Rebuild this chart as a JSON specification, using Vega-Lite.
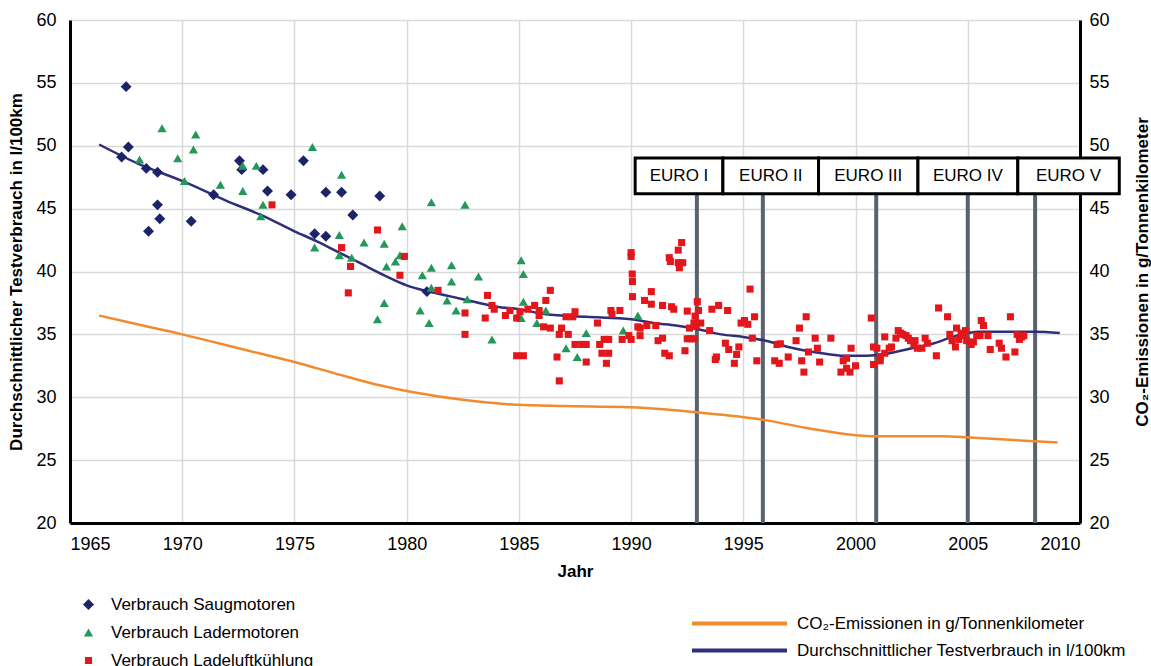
{
"$schema": "https://vega.github.io/schema/vega-lite/v6.json",
"width": 1010, "height": 503,
"autosize": {"type": "none"},
"padding": {"left": 70, "top": 20, "right": 71, "bottom": 143},
"background": "white",
"config": {
  "font": "Liberation Sans",
  "view": {"stroke": null},
  "axis": {"labelFont": "Liberation Sans", "labelFontSize": 18, "labelColor": "#000", "titleFont": "Liberation Sans", "titleFontSize": 17, "titleFontWeight": "bold", "titleColor": "#000", "ticks": false, "tickSize": 0, "domainColor": "#000", "domainWidth": 3, "gridColor": "#d9d9d9", "gridWidth": 1.5},
  "legend": {"labelFont": "Liberation Sans", "labelFontSize": 17, "labelColor": "#000", "labelLimit": 500, "title": null, "padding": 0}
},
"datasets": {
  "pts": [
    {"Typ":"Verbrauch Saugmotoren","Jahr":1967.5,"Wert":54.7},{"Typ":"Verbrauch Saugmotoren","Jahr":1967.6,"Wert":49.9},{"Typ":"Verbrauch Saugmotoren","Jahr":1967.3,"Wert":49.1},{"Typ":"Verbrauch Saugmotoren","Jahr":1968.4,"Wert":48.2},{"Typ":"Verbrauch Saugmotoren","Jahr":1968.9,"Wert":47.9},{"Typ":"Verbrauch Saugmotoren","Jahr":1968.9,"Wert":45.3},{"Typ":"Verbrauch Saugmotoren","Jahr":1969.0,"Wert":44.2},{"Typ":"Verbrauch Saugmotoren","Jahr":1968.5,"Wert":43.2},{"Typ":"Verbrauch Saugmotoren","Jahr":1970.4,"Wert":44.0},{"Typ":"Verbrauch Saugmotoren","Jahr":1971.4,"Wert":46.1},{"Typ":"Verbrauch Saugmotoren","Jahr":1972.55,"Wert":48.8},{"Typ":"Verbrauch Saugmotoren","Jahr":1972.65,"Wert":48.1},{"Typ":"Verbrauch Saugmotoren","Jahr":1973.6,"Wert":48.1},{"Typ":"Verbrauch Saugmotoren","Jahr":1973.8,"Wert":46.4},{"Typ":"Verbrauch Saugmotoren","Jahr":1974.85,"Wert":46.1},{"Typ":"Verbrauch Saugmotoren","Jahr":1975.4,"Wert":48.8},{"Typ":"Verbrauch Saugmotoren","Jahr":1976.4,"Wert":46.3},{"Typ":"Verbrauch Saugmotoren","Jahr":1977.1,"Wert":46.3},{"Typ":"Verbrauch Saugmotoren","Jahr":1977.6,"Wert":44.5},{"Typ":"Verbrauch Saugmotoren","Jahr":1975.9,"Wert":43.0},{"Typ":"Verbrauch Saugmotoren","Jahr":1976.4,"Wert":42.8},{"Typ":"Verbrauch Saugmotoren","Jahr":1978.8,"Wert":46.0},{"Typ":"Verbrauch Saugmotoren","Jahr":1980.9,"Wert":38.4},
    {"Typ":"Verbrauch Ladermotoren","Jahr":1968.1,"Wert":48.9},{"Typ":"Verbrauch Ladermotoren","Jahr":1969.1,"Wert":51.4},{"Typ":"Verbrauch Ladermotoren","Jahr":1969.8,"Wert":49.0},{"Typ":"Verbrauch Ladermotoren","Jahr":1970.1,"Wert":47.2},{"Typ":"Verbrauch Ladermotoren","Jahr":1970.5,"Wert":49.7},{"Typ":"Verbrauch Ladermotoren","Jahr":1970.6,"Wert":50.9},{"Typ":"Verbrauch Ladermotoren","Jahr":1971.7,"Wert":46.9},{"Typ":"Verbrauch Ladermotoren","Jahr":1972.7,"Wert":48.4},{"Typ":"Verbrauch Ladermotoren","Jahr":1973.3,"Wert":48.4},{"Typ":"Verbrauch Ladermotoren","Jahr":1972.7,"Wert":46.4},{"Typ":"Verbrauch Ladermotoren","Jahr":1973.6,"Wert":45.3},{"Typ":"Verbrauch Ladermotoren","Jahr":1973.5,"Wert":44.4},{"Typ":"Verbrauch Ladermotoren","Jahr":1975.8,"Wert":49.9},{"Typ":"Verbrauch Ladermotoren","Jahr":1977.1,"Wert":47.7},{"Typ":"Verbrauch Ladermotoren","Jahr":1977.0,"Wert":42.9},{"Typ":"Verbrauch Ladermotoren","Jahr":1975.9,"Wert":41.9},{"Typ":"Verbrauch Ladermotoren","Jahr":1977.0,"Wert":41.3},{"Typ":"Verbrauch Ladermotoren","Jahr":1977.55,"Wert":41.1},{"Typ":"Verbrauch Ladermotoren","Jahr":1978.1,"Wert":42.3},{"Typ":"Verbrauch Ladermotoren","Jahr":1979.0,"Wert":42.2},{"Typ":"Verbrauch Ladermotoren","Jahr":1979.8,"Wert":43.6},{"Typ":"Verbrauch Ladermotoren","Jahr":1979.7,"Wert":41.3},{"Typ":"Verbrauch Ladermotoren","Jahr":1979.5,"Wert":40.8},{"Typ":"Verbrauch Ladermotoren","Jahr":1979.1,"Wert":40.4},{"Typ":"Verbrauch Ladermotoren","Jahr":1981.1,"Wert":45.5},{"Typ":"Verbrauch Ladermotoren","Jahr":1982.6,"Wert":45.3},{"Typ":"Verbrauch Ladermotoren","Jahr":1981.1,"Wert":40.3},{"Typ":"Verbrauch Ladermotoren","Jahr":1982.0,"Wert":40.5},{"Typ":"Verbrauch Ladermotoren","Jahr":1980.7,"Wert":39.7},{"Typ":"Verbrauch Ladermotoren","Jahr":1983.2,"Wert":39.6},{"Typ":"Verbrauch Ladermotoren","Jahr":1982.0,"Wert":39.2},{"Typ":"Verbrauch Ladermotoren","Jahr":1981.1,"Wert":38.7},{"Typ":"Verbrauch Ladermotoren","Jahr":1981.8,"Wert":37.7},{"Typ":"Verbrauch Ladermotoren","Jahr":1982.7,"Wert":37.8},{"Typ":"Verbrauch Ladermotoren","Jahr":1979.0,"Wert":37.5},{"Typ":"Verbrauch Ladermotoren","Jahr":1980.6,"Wert":36.9},{"Typ":"Verbrauch Ladermotoren","Jahr":1982.2,"Wert":36.9},{"Typ":"Verbrauch Ladermotoren","Jahr":1978.7,"Wert":36.2},{"Typ":"Verbrauch Ladermotoren","Jahr":1981.0,"Wert":35.9},{"Typ":"Verbrauch Ladermotoren","Jahr":1983.8,"Wert":34.6},{"Typ":"Verbrauch Ladermotoren","Jahr":1985.1,"Wert":40.9},{"Typ":"Verbrauch Ladermotoren","Jahr":1985.2,"Wert":39.8},{"Typ":"Verbrauch Ladermotoren","Jahr":1985.2,"Wert":37.6},{"Typ":"Verbrauch Ladermotoren","Jahr":1985.1,"Wert":36.3},{"Typ":"Verbrauch Ladermotoren","Jahr":1985.8,"Wert":35.9},{"Typ":"Verbrauch Ladermotoren","Jahr":1986.2,"Wert":36.9},{"Typ":"Verbrauch Ladermotoren","Jahr":1988.0,"Wert":35.1},{"Typ":"Verbrauch Ladermotoren","Jahr":1987.1,"Wert":33.9},{"Typ":"Verbrauch Ladermotoren","Jahr":1987.6,"Wert":33.2},{"Typ":"Verbrauch Ladermotoren","Jahr":1990.3,"Wert":36.5},{"Typ":"Verbrauch Ladermotoren","Jahr":1989.65,"Wert":35.3},
    {"Typ":"Verbrauch Ladeluftkühlung","Jahr":1974.0,"Wert":45.3},{"Typ":"Verbrauch Ladeluftkühlung","Jahr":1977.1,"Wert":41.9},{"Typ":"Verbrauch Ladeluftkühlung","Jahr":1978.7,"Wert":43.3},{"Typ":"Verbrauch Ladeluftkühlung","Jahr":1979.9,"Wert":41.2},{"Typ":"Verbrauch Ladeluftkühlung","Jahr":1977.5,"Wert":40.4},{"Typ":"Verbrauch Ladeluftkühlung","Jahr":1979.7,"Wert":39.7},{"Typ":"Verbrauch Ladeluftkühlung","Jahr":1981.4,"Wert":38.5},{"Typ":"Verbrauch Ladeluftkühlung","Jahr":1977.4,"Wert":38.3},{"Typ":"Verbrauch Ladeluftkühlung","Jahr":1983.6,"Wert":38.1},{"Typ":"Verbrauch Ladeluftkühlung","Jahr":1983.8,"Wert":37.3},{"Typ":"Verbrauch Ladeluftkühlung","Jahr":1983.9,"Wert":37.0},{"Typ":"Verbrauch Ladeluftkühlung","Jahr":1982.6,"Wert":36.7},{"Typ":"Verbrauch Ladeluftkühlung","Jahr":1983.5,"Wert":36.3},{"Typ":"Verbrauch Ladeluftkühlung","Jahr":1982.6,"Wert":35.0},{"Typ":"Verbrauch Ladeluftkühlung","Jahr":1984.4,"Wert":36.5},{"Typ":"Verbrauch Ladeluftkühlung","Jahr":1984.6,"Wert":36.9},{"Typ":"Verbrauch Ladeluftkühlung","Jahr":1984.9,"Wert":36.3},{"Typ":"Verbrauch Ladeluftkühlung","Jahr":1985.05,"Wert":36.8},{"Typ":"Verbrauch Ladeluftkühlung","Jahr":1985.4,"Wert":37.0},{"Typ":"Verbrauch Ladeluftkühlung","Jahr":1985.7,"Wert":37.3},{"Typ":"Verbrauch Ladeluftkühlung","Jahr":1985.9,"Wert":36.9},{"Typ":"Verbrauch Ladeluftkühlung","Jahr":1985.9,"Wert":36.5},{"Typ":"Verbrauch Ladeluftkühlung","Jahr":1984.9,"Wert":33.3},{"Typ":"Verbrauch Ladeluftkühlung","Jahr":1985.2,"Wert":33.3},{"Typ":"Verbrauch Ladeluftkühlung","Jahr":1986.4,"Wert":38.5},{"Typ":"Verbrauch Ladeluftkühlung","Jahr":1986.2,"Wert":37.7},{"Typ":"Verbrauch Ladeluftkühlung","Jahr":1986.1,"Wert":35.6},{"Typ":"Verbrauch Ladeluftkühlung","Jahr":1986.4,"Wert":35.5},{"Typ":"Verbrauch Ladeluftkühlung","Jahr":1986.7,"Wert":33.2},{"Typ":"Verbrauch Ladeluftkühlung","Jahr":1986.8,"Wert":31.3},{"Typ":"Verbrauch Ladeluftkühlung","Jahr":1986.9,"Wert":35.5},{"Typ":"Verbrauch Ladeluftkühlung","Jahr":1986.8,"Wert":35.0},{"Typ":"Verbrauch Ladeluftkühlung","Jahr":1987.2,"Wert":35.0},{"Typ":"Verbrauch Ladeluftkühlung","Jahr":1987.1,"Wert":36.4},{"Typ":"Verbrauch Ladeluftkühlung","Jahr":1987.4,"Wert":36.4},{"Typ":"Verbrauch Ladeluftkühlung","Jahr":1987.5,"Wert":36.8},{"Typ":"Verbrauch Ladeluftkühlung","Jahr":1987.5,"Wert":34.2},{"Typ":"Verbrauch Ladeluftkühlung","Jahr":1987.8,"Wert":34.2},{"Typ":"Verbrauch Ladeluftkühlung","Jahr":1988.0,"Wert":34.2},{"Typ":"Verbrauch Ladeluftkühlung","Jahr":1988.0,"Wert":32.8},{"Typ":"Verbrauch Ladeluftkühlung","Jahr":1988.5,"Wert":35.9},{"Typ":"Verbrauch Ladeluftkühlung","Jahr":1988.6,"Wert":34.2},{"Typ":"Verbrauch Ladeluftkühlung","Jahr":1988.8,"Wert":34.6},{"Typ":"Verbrauch Ladeluftkühlung","Jahr":1989.0,"Wert":34.6},{"Typ":"Verbrauch Ladeluftkühlung","Jahr":1988.7,"Wert":33.5},{"Typ":"Verbrauch Ladeluftkühlung","Jahr":1989.0,"Wert":33.5},{"Typ":"Verbrauch Ladeluftkühlung","Jahr":1988.9,"Wert":32.7},{"Typ":"Verbrauch Ladeluftkühlung","Jahr":1989.1,"Wert":36.9},{"Typ":"Verbrauch Ladeluftkühlung","Jahr":1989.15,"Wert":36.6},{"Typ":"Verbrauch Ladeluftkühlung","Jahr":1989.5,"Wert":36.9},{"Typ":"Verbrauch Ladeluftkühlung","Jahr":1989.6,"Wert":34.6},{"Typ":"Verbrauch Ladeluftkühlung","Jahr":1989.9,"Wert":34.9},{"Typ":"Verbrauch Ladeluftkühlung","Jahr":1990.0,"Wert":34.6},{"Typ":"Verbrauch Ladeluftkühlung","Jahr":1990.0,"Wert":41.5},{"Typ":"Verbrauch Ladeluftkühlung","Jahr":1990.0,"Wert":41.2},{"Typ":"Verbrauch Ladeluftkühlung","Jahr":1990.05,"Wert":39.8},{"Typ":"Verbrauch Ladeluftkühlung","Jahr":1990.06,"Wert":39.2},{"Typ":"Verbrauch Ladeluftkühlung","Jahr":1990.06,"Wert":38.0},{"Typ":"Verbrauch Ladeluftkühlung","Jahr":1990.3,"Wert":35.6},{"Typ":"Verbrauch Ladeluftkühlung","Jahr":1990.4,"Wert":35.5},{"Typ":"Verbrauch Ladeluftkühlung","Jahr":1990.4,"Wert":34.9},{"Typ":"Verbrauch Ladeluftkühlung","Jahr":1990.7,"Wert":35.7},{"Typ":"Verbrauch Ladeluftkühlung","Jahr":1990.6,"Wert":37.7},{"Typ":"Verbrauch Ladeluftkühlung","Jahr":1990.9,"Wert":37.4},{"Typ":"Verbrauch Ladeluftkühlung","Jahr":1990.9,"Wert":38.4},{"Typ":"Verbrauch Ladeluftkühlung","Jahr":1991.1,"Wert":35.7},{"Typ":"Verbrauch Ladeluftkühlung","Jahr":1991.2,"Wert":34.5},{"Typ":"Verbrauch Ladeluftkühlung","Jahr":1991.4,"Wert":34.7},{"Typ":"Verbrauch Ladeluftkühlung","Jahr":1991.5,"Wert":33.5},{"Typ":"Verbrauch Ladeluftkühlung","Jahr":1991.7,"Wert":33.3},{"Typ":"Verbrauch Ladeluftkühlung","Jahr":1991.4,"Wert":37.3},{"Typ":"Verbrauch Ladeluftkühlung","Jahr":1991.8,"Wert":37.2},{"Typ":"Verbrauch Ladeluftkühlung","Jahr":1991.9,"Wert":37.0},{"Typ":"Verbrauch Ladeluftkühlung","Jahr":1991.7,"Wert":41.1},{"Typ":"Verbrauch Ladeluftkühlung","Jahr":1991.75,"Wert":40.8},{"Typ":"Verbrauch Ladeluftkühlung","Jahr":1992.1,"Wert":41.7},{"Typ":"Verbrauch Ladeluftkühlung","Jahr":1992.25,"Wert":42.3},{"Typ":"Verbrauch Ladeluftkühlung","Jahr":1992.1,"Wert":40.7},{"Typ":"Verbrauch Ladeluftkühlung","Jahr":1992.3,"Wert":40.7},{"Typ":"Verbrauch Ladeluftkühlung","Jahr":1992.15,"Wert":40.3},{"Typ":"Verbrauch Ladeluftkühlung","Jahr":1992.4,"Wert":33.7},{"Typ":"Verbrauch Ladeluftkühlung","Jahr":1992.5,"Wert":36.85},{"Typ":"Verbrauch Ladeluftkühlung","Jahr":1992.95,"Wert":37.6},{"Typ":"Verbrauch Ladeluftkühlung","Jahr":1993.0,"Wert":36.9},{"Typ":"Verbrauch Ladeluftkühlung","Jahr":1992.85,"Wert":36.45},{"Typ":"Verbrauch Ladeluftkühlung","Jahr":1992.8,"Wert":35.9},{"Typ":"Verbrauch Ladeluftkühlung","Jahr":1992.9,"Wert":35.65},{"Typ":"Verbrauch Ladeluftkühlung","Jahr":1993.1,"Wert":35.9},{"Typ":"Verbrauch Ladeluftkühlung","Jahr":1992.6,"Wert":35.5},{"Typ":"Verbrauch Ladeluftkühlung","Jahr":1992.5,"Wert":34.65},{"Typ":"Verbrauch Ladeluftkühlung","Jahr":1992.65,"Wert":34.65},{"Typ":"Verbrauch Ladeluftkühlung","Jahr":1992.8,"Wert":34.65},{"Typ":"Verbrauch Ladeluftkühlung","Jahr":1993.6,"Wert":37.0},{"Typ":"Verbrauch Ladeluftkühlung","Jahr":1993.9,"Wert":37.3},{"Typ":"Verbrauch Ladeluftkühlung","Jahr":1994.3,"Wert":36.9},{"Typ":"Verbrauch Ladeluftkühlung","Jahr":1993.5,"Wert":35.3},{"Typ":"Verbrauch Ladeluftkühlung","Jahr":1994.2,"Wert":34.3},{"Typ":"Verbrauch Ladeluftkühlung","Jahr":1994.35,"Wert":33.8},{"Typ":"Verbrauch Ladeluftkühlung","Jahr":1993.8,"Wert":33.2},{"Typ":"Verbrauch Ladeluftkühlung","Jahr":1993.75,"Wert":33.0},{"Typ":"Verbrauch Ladeluftkühlung","Jahr":1994.7,"Wert":33.4},{"Typ":"Verbrauch Ladeluftkühlung","Jahr":1994.8,"Wert":34.0},{"Typ":"Verbrauch Ladeluftkühlung","Jahr":1994.6,"Wert":32.7},{"Typ":"Verbrauch Ladeluftkühlung","Jahr":1995.3,"Wert":38.6},{"Typ":"Verbrauch Ladeluftkühlung","Jahr":1994.9,"Wert":35.9},{"Typ":"Verbrauch Ladeluftkühlung","Jahr":1995.05,"Wert":36.1},{"Typ":"Verbrauch Ladeluftkühlung","Jahr":1995.2,"Wert":35.8},{"Typ":"Verbrauch Ladeluftkühlung","Jahr":1995.5,"Wert":36.4},{"Typ":"Verbrauch Ladeluftkühlung","Jahr":1995.4,"Wert":34.7},{"Typ":"Verbrauch Ladeluftkühlung","Jahr":1995.6,"Wert":32.9},{"Typ":"Verbrauch Ladeluftkühlung","Jahr":1996.5,"Wert":34.2},{"Typ":"Verbrauch Ladeluftkühlung","Jahr":1996.65,"Wert":34.25},{"Typ":"Verbrauch Ladeluftkühlung","Jahr":1996.4,"Wert":32.9},{"Typ":"Verbrauch Ladeluftkühlung","Jahr":1996.6,"Wert":32.7},{"Typ":"Verbrauch Ladeluftkühlung","Jahr":1997.0,"Wert":33.2},{"Typ":"Verbrauch Ladeluftkühlung","Jahr":1997.35,"Wert":34.5},{"Typ":"Verbrauch Ladeluftkühlung","Jahr":1997.5,"Wert":35.5},{"Typ":"Verbrauch Ladeluftkühlung","Jahr":1997.8,"Wert":36.4},{"Typ":"Verbrauch Ladeluftkühlung","Jahr":1997.6,"Wert":32.9},{"Typ":"Verbrauch Ladeluftkühlung","Jahr":1997.7,"Wert":32.0},{"Typ":"Verbrauch Ladeluftkühlung","Jahr":1997.9,"Wert":33.6},{"Typ":"Verbrauch Ladeluftkühlung","Jahr":1998.2,"Wert":34.7},{"Typ":"Verbrauch Ladeluftkühlung","Jahr":1998.3,"Wert":33.9},{"Typ":"Verbrauch Ladeluftkühlung","Jahr":1998.4,"Wert":32.8},{"Typ":"Verbrauch Ladeluftkühlung","Jahr":1998.9,"Wert":34.7},{"Typ":"Verbrauch Ladeluftkühlung","Jahr":1999.35,"Wert":32.0},{"Typ":"Verbrauch Ladeluftkühlung","Jahr":1999.6,"Wert":32.3},{"Typ":"Verbrauch Ladeluftkühlung","Jahr":1999.75,"Wert":32.0},{"Typ":"Verbrauch Ladeluftkühlung","Jahr":1999.6,"Wert":33.1},{"Typ":"Verbrauch Ladeluftkühlung","Jahr":1999.45,"Wert":32.9},{"Typ":"Verbrauch Ladeluftkühlung","Jahr":1999.8,"Wert":33.9},{"Typ":"Verbrauch Ladeluftkühlung","Jahr":2000.0,"Wert":32.5},{"Typ":"Verbrauch Ladeluftkühlung","Jahr":2000.7,"Wert":36.3},{"Typ":"Verbrauch Ladeluftkühlung","Jahr":2000.8,"Wert":34.0},{"Typ":"Verbrauch Ladeluftkühlung","Jahr":2000.8,"Wert":32.6},{"Typ":"Verbrauch Ladeluftkühlung","Jahr":2000.95,"Wert":33.9},{"Typ":"Verbrauch Ladeluftkühlung","Jahr":2001.1,"Wert":32.9},{"Typ":"Verbrauch Ladeluftkühlung","Jahr":2001.1,"Wert":33.2},{"Typ":"Verbrauch Ladeluftkühlung","Jahr":2001.3,"Wert":34.8},{"Typ":"Verbrauch Ladeluftkühlung","Jahr":2001.3,"Wert":33.5},{"Typ":"Verbrauch Ladeluftkühlung","Jahr":2001.5,"Wert":33.9},{"Typ":"Verbrauch Ladeluftkühlung","Jahr":2001.6,"Wert":34.0},{"Typ":"Verbrauch Ladeluftkühlung","Jahr":2001.9,"Wert":35.3},{"Typ":"Verbrauch Ladeluftkühlung","Jahr":2002.0,"Wert":35.1},{"Typ":"Verbrauch Ladeluftkühlung","Jahr":2001.8,"Wert":34.7},{"Typ":"Verbrauch Ladeluftkühlung","Jahr":2002.1,"Wert":35.0},{"Typ":"Verbrauch Ladeluftkühlung","Jahr":2002.25,"Wert":34.9},{"Typ":"Verbrauch Ladeluftkühlung","Jahr":2002.35,"Wert":34.7},{"Typ":"Verbrauch Ladeluftkühlung","Jahr":2002.45,"Wert":34.5},{"Typ":"Verbrauch Ladeluftkühlung","Jahr":2002.65,"Wert":34.5},{"Typ":"Verbrauch Ladeluftkühlung","Jahr":2002.6,"Wert":34.2},{"Typ":"Verbrauch Ladeluftkühlung","Jahr":2002.75,"Wert":33.9},{"Typ":"Verbrauch Ladeluftkühlung","Jahr":2002.95,"Wert":33.9},{"Typ":"Verbrauch Ladeluftkühlung","Jahr":2003.1,"Wert":34.7},{"Typ":"Verbrauch Ladeluftkühlung","Jahr":2003.2,"Wert":34.3},{"Typ":"Verbrauch Ladeluftkühlung","Jahr":2003.6,"Wert":33.3},{"Typ":"Verbrauch Ladeluftkühlung","Jahr":2003.7,"Wert":37.1},{"Typ":"Verbrauch Ladeluftkühlung","Jahr":2004.1,"Wert":36.4},{"Typ":"Verbrauch Ladeluftkühlung","Jahr":2004.2,"Wert":35.0},{"Typ":"Verbrauch Ladeluftkühlung","Jahr":2004.3,"Wert":34.5},{"Typ":"Verbrauch Ladeluftkühlung","Jahr":2004.45,"Wert":34.0},{"Typ":"Verbrauch Ladeluftkühlung","Jahr":2004.5,"Wert":35.5},{"Typ":"Verbrauch Ladeluftkühlung","Jahr":2004.6,"Wert":34.6},{"Typ":"Verbrauch Ladeluftkühlung","Jahr":2004.7,"Wert":35.1},{"Typ":"Verbrauch Ladeluftkühlung","Jahr":2004.8,"Wert":34.9},{"Typ":"Verbrauch Ladeluftkühlung","Jahr":2004.9,"Wert":35.3},{"Typ":"Verbrauch Ladeluftkühlung","Jahr":2004.95,"Wert":34.5},{"Typ":"Verbrauch Ladeluftkühlung","Jahr":2005.15,"Wert":34.2},{"Typ":"Verbrauch Ladeluftkühlung","Jahr":2005.25,"Wert":34.4},{"Typ":"Verbrauch Ladeluftkühlung","Jahr":2005.4,"Wert":34.9},{"Typ":"Verbrauch Ladeluftkühlung","Jahr":2005.55,"Wert":34.9},{"Typ":"Verbrauch Ladeluftkühlung","Jahr":2005.6,"Wert":36.1},{"Typ":"Verbrauch Ladeluftkühlung","Jahr":2005.7,"Wert":35.7},{"Typ":"Verbrauch Ladeluftkühlung","Jahr":2005.9,"Wert":34.9},{"Typ":"Verbrauch Ladeluftkühlung","Jahr":2006.0,"Wert":33.8},{"Typ":"Verbrauch Ladeluftkühlung","Jahr":2006.4,"Wert":34.3},{"Typ":"Verbrauch Ladeluftkühlung","Jahr":2006.5,"Wert":33.9},{"Typ":"Verbrauch Ladeluftkühlung","Jahr":2006.7,"Wert":33.2},{"Typ":"Verbrauch Ladeluftkühlung","Jahr":2006.9,"Wert":36.4},{"Typ":"Verbrauch Ladeluftkühlung","Jahr":2007.1,"Wert":33.6},{"Typ":"Verbrauch Ladeluftkühlung","Jahr":2007.2,"Wert":35.0},{"Typ":"Verbrauch Ladeluftkühlung","Jahr":2007.3,"Wert":34.6},{"Typ":"Verbrauch Ladeluftkühlung","Jahr":2007.4,"Wert":34.8},{"Typ":"Verbrauch Ladeluftkühlung","Jahr":2007.5,"Wert":34.9}
  ],
  "co2": [
    {"Linie":"CO₂-Emissionen in g/Tonnenkilometer","Jahr":1966.3,"Wert":36.5},{"Linie":"CO₂-Emissionen in g/Tonnenkilometer","Jahr":1968,"Wert":35.8},{"Linie":"CO₂-Emissionen in g/Tonnenkilometer","Jahr":1970,"Wert":35.0},{"Linie":"CO₂-Emissionen in g/Tonnenkilometer","Jahr":1972.5,"Wert":33.9},{"Linie":"CO₂-Emissionen in g/Tonnenkilometer","Jahr":1975,"Wert":32.8},{"Linie":"CO₂-Emissionen in g/Tonnenkilometer","Jahr":1977,"Wert":31.8},{"Linie":"CO₂-Emissionen in g/Tonnenkilometer","Jahr":1978.8,"Wert":30.95},{"Linie":"CO₂-Emissionen in g/Tonnenkilometer","Jahr":1980.3,"Wert":30.4},{"Linie":"CO₂-Emissionen in g/Tonnenkilometer","Jahr":1982.5,"Wert":29.8},{"Linie":"CO₂-Emissionen in g/Tonnenkilometer","Jahr":1984.9,"Wert":29.4},{"Linie":"CO₂-Emissionen in g/Tonnenkilometer","Jahr":1987,"Wert":29.3},{"Linie":"CO₂-Emissionen in g/Tonnenkilometer","Jahr":1990,"Wert":29.2},{"Linie":"CO₂-Emissionen in g/Tonnenkilometer","Jahr":1992.9,"Wert":28.8},{"Linie":"CO₂-Emissionen in g/Tonnenkilometer","Jahr":1995.9,"Wert":28.2},{"Linie":"CO₂-Emissionen in g/Tonnenkilometer","Jahr":1998,"Wert":27.5},{"Linie":"CO₂-Emissionen in g/Tonnenkilometer","Jahr":1999.6,"Wert":27.06},{"Linie":"CO₂-Emissionen in g/Tonnenkilometer","Jahr":2000.9,"Wert":26.9},{"Linie":"CO₂-Emissionen in g/Tonnenkilometer","Jahr":2003.9,"Wert":26.9},{"Linie":"CO₂-Emissionen in g/Tonnenkilometer","Jahr":2005.1,"Wert":26.8},{"Linie":"CO₂-Emissionen in g/Tonnenkilometer","Jahr":2009,"Wert":26.4}
  ],
  "fit": [
    {"Linie":"Durchschnittlicher Testverbrauch in l/100km","Jahr":1966.3,"Wert":50.1},{"Linie":"Durchschnittlicher Testverbrauch in l/100km","Jahr":1968,"Wert":48.6},{"Linie":"Durchschnittlicher Testverbrauch in l/100km","Jahr":1970,"Wert":47.2},{"Linie":"Durchschnittlicher Testverbrauch in l/100km","Jahr":1972,"Wert":45.6},{"Linie":"Durchschnittlicher Testverbrauch in l/100km","Jahr":1973.5,"Wert":44.5},{"Linie":"Durchschnittlicher Testverbrauch in l/100km","Jahr":1975,"Wert":43.2},{"Linie":"Durchschnittlicher Testverbrauch in l/100km","Jahr":1976,"Wert":42.4},{"Linie":"Durchschnittlicher Testverbrauch in l/100km","Jahr":1977,"Wert":41.5},{"Linie":"Durchschnittlicher Testverbrauch in l/100km","Jahr":1978,"Wert":40.6},{"Linie":"Durchschnittlicher Testverbrauch in l/100km","Jahr":1979,"Wert":39.7},{"Linie":"Durchschnittlicher Testverbrauch in l/100km","Jahr":1980,"Wert":38.9},{"Linie":"Durchschnittlicher Testverbrauch in l/100km","Jahr":1981,"Wert":38.4},{"Linie":"Durchschnittlicher Testverbrauch in l/100km","Jahr":1982,"Wert":38.0},{"Linie":"Durchschnittlicher Testverbrauch in l/100km","Jahr":1983,"Wert":37.6},{"Linie":"Durchschnittlicher Testverbrauch in l/100km","Jahr":1984,"Wert":37.2},{"Linie":"Durchschnittlicher Testverbrauch in l/100km","Jahr":1985,"Wert":37.0},{"Linie":"Durchschnittlicher Testverbrauch in l/100km","Jahr":1986.2,"Wert":36.6},{"Linie":"Durchschnittlicher Testverbrauch in l/100km","Jahr":1988,"Wert":36.4},{"Linie":"Durchschnittlicher Testverbrauch in l/100km","Jahr":1990,"Wert":36.2},{"Linie":"Durchschnittlicher Testverbrauch in l/100km","Jahr":1991,"Wert":35.9},{"Linie":"Durchschnittlicher Testverbrauch in l/100km","Jahr":1992,"Wert":35.7},{"Linie":"Durchschnittlicher Testverbrauch in l/100km","Jahr":1993,"Wert":35.4},{"Linie":"Durchschnittlicher Testverbrauch in l/100km","Jahr":1994,"Wert":35.0},{"Linie":"Durchschnittlicher Testverbrauch in l/100km","Jahr":1995,"Wert":34.8},{"Linie":"Durchschnittlicher Testverbrauch in l/100km","Jahr":1996,"Wert":34.5},{"Linie":"Durchschnittlicher Testverbrauch in l/100km","Jahr":1997,"Wert":34.0},{"Linie":"Durchschnittlicher Testverbrauch in l/100km","Jahr":1997.5,"Wert":33.8},{"Linie":"Durchschnittlicher Testverbrauch in l/100km","Jahr":1998.5,"Wert":33.5},{"Linie":"Durchschnittlicher Testverbrauch in l/100km","Jahr":1999.5,"Wert":33.3},{"Linie":"Durchschnittlicher Testverbrauch in l/100km","Jahr":2000.5,"Wert":33.3},{"Linie":"Durchschnittlicher Testverbrauch in l/100km","Jahr":2001.5,"Wert":33.5},{"Linie":"Durchschnittlicher Testverbrauch in l/100km","Jahr":2002.5,"Wert":33.9},{"Linie":"Durchschnittlicher Testverbrauch in l/100km","Jahr":2003.5,"Wert":34.3},{"Linie":"Durchschnittlicher Testverbrauch in l/100km","Jahr":2004.5,"Wert":34.9},{"Linie":"Durchschnittlicher Testverbrauch in l/100km","Jahr":2005.5,"Wert":35.2},{"Linie":"Durchschnittlicher Testverbrauch in l/100km","Jahr":2006.5,"Wert":35.2},{"Linie":"Durchschnittlicher Testverbrauch in l/100km","Jahr":2008,"Wert":35.2},{"Linie":"Durchschnittlicher Testverbrauch in l/100km","Jahr":2009.1,"Wert":35.1}
  ],
  "euro": [
    {"Norm":"EURO I","von":1990.18,"bis":1994.09,"Einfuehrung":1992.93},
    {"Norm":"EURO II","von":1994.09,"bis":1998.35,"Einfuehrung":1995.87},
    {"Norm":"EURO III","von":1998.35,"bis":2002.78,"Einfuehrung":2000.92},
    {"Norm":"EURO IV","von":2002.78,"bis":2007.23,"Einfuehrung":2005.0},
    {"Norm":"EURO V","von":2007.23,"bis":2011.75,"Einfuehrung":2008.0}
  ]
},
"layer": [
  {
    "data": {"name": "euro"},
    "mark": {"type": "rule", "color": "#5a626d", "strokeWidth": 4},
    "encoding": {
      "x": {"field": "Einfuehrung", "type": "quantitative", "title": "Jahr", "scale": {"domain": [1965, 2010], "nice": false, "zero": false}, "axis": {"values": [1965,1970,1975,1980,1985,1990,1995,2000,2005,2010], "format": "d", "grid": true, "labelPadding": 12, "titlePadding": 10}},
      "y": {"datum": 20, "type": "quantitative", "scale": {"domain": [20, 60], "nice": false, "zero": false}, "axis": null},
      "y2": {"datum": 46.19}
    }
  },
  {
    "data": {"name": "co2"},
    "mark": {"type": "line", "strokeWidth": 2.5, "interpolate": "monotone"},
    "encoding": {
      "x": {"field": "Jahr", "type": "quantitative", "title": "Jahr"},
      "y": {"field": "Wert", "type": "quantitative", "scale": {"domain": [20, 60], "nice": false, "zero": false}, "axis": {"orient": "right", "title": "CO₂-Emissionen in g/Tonnenkilometer", "titleAngle": -90, "values": [20,25,30,35,40,45,50,55,60], "grid": false, "labelPadding": 9, "titlePadding": 42}},
      "color": {"field": "Linie", "type": "nominal", "scale": {"range": ["#f28a2e"]}, "legend": {"orient": "none", "legendX": 620, "legendY": 554, "labelOffset": 8, "symbolType": "stroke", "symbolSize": 9025, "symbolStrokeWidth": 4}}
    }
  },
  {
    "data": {"name": "fit"},
    "mark": {"type": "line", "strokeWidth": 2.5, "interpolate": "monotone"},
    "encoding": {
      "x": {"field": "Jahr", "type": "quantitative", "title": "Jahr"},
      "y": {"field": "Wert", "type": "quantitative", "axis": null},
      "color": {"field": "Linie", "type": "nominal", "scale": {"range": ["#2f2e7a"]}, "legend": {"orient": "none", "legendX": 620, "legendY": 581, "labelOffset": 8, "symbolType": "stroke", "symbolSize": 9025, "symbolStrokeWidth": 4}}
    }
  },
  {
    "data": {"name": "pts"},
    "mark": {"type": "point", "filled": true, "opacity": 1},
    "encoding": {
      "x": {"field": "Jahr", "type": "quantitative", "title": "Jahr"},
      "y": {"field": "Wert", "type": "quantitative", "scale": {"domain": [20, 60], "nice": false, "zero": false}, "axis": {"orient": "left", "title": "Durchschnittlicher Testverbrauch in l/100km", "values": [20,25,30,35,40,45,50,55,60], "grid": true, "labelPadding": 14, "titlePadding": 10}},
      "color": {"field": "Typ", "type": "ordinal", "scale": {"domain": ["Verbrauch Saugmotoren","Verbrauch Ladermotoren","Verbrauch Ladeluftkühlung"], "range": ["#1c2467","#24985a","#e3161b"]}, "legend": {"orient": "none", "legendX": 10, "legendY": 576, "rowPadding": 10, "labelOffset": 14}},
      "shape": {"field": "Typ", "type": "ordinal", "scale": {"domain": ["Verbrauch Saugmotoren","Verbrauch Ladermotoren","Verbrauch Ladeluftkühlung"], "range": ["diamond","triangle-up","square"]}, "legend": {"orient": "none", "legendX": 10, "legendY": 576, "rowPadding": 10, "labelOffset": 14}},
      "size": {"field": "Typ", "type": "ordinal", "scale": {"type": "point", "padding": 0, "domain": ["Verbrauch Saugmotoren","Verbrauch Ladermotoren","Verbrauch Ladeluftkühlung"], "range": [120, 50]}, "legend": {"orient": "none", "legendX": 10, "legendY": 576, "rowPadding": 10, "labelOffset": 14}}
    }
  },
  {
    "data": {"name": "euro"},
    "mark": {"type": "rect", "fill": "white", "stroke": "#000", "strokeWidth": 3, "clip": false},
    "encoding": {
      "x": {"field": "von", "type": "quantitative", "title": "Jahr"},
      "x2": {"field": "bis"},
      "y": {"datum": 46.19, "type": "quantitative", "axis": null},
      "y2": {"datum": 49.02}
    }
  },
  {
    "data": {"name": "euro"},
    "transform": [{"calculate": "(datum.von + datum.bis) / 2", "as": "Mitte"}],
    "mark": {"type": "text", "fontSize": 17, "font": "Liberation Sans", "color": "#000", "align": "center", "baseline": "middle", "clip": false},
    "encoding": {
      "x": {"field": "Mitte", "type": "quantitative", "title": "Jahr"},
      "y": {"datum": 47.6, "type": "quantitative", "axis": null},
      "text": {"field": "Norm"}
    }
  }
],
"resolve": {"scale": {"color": "independent", "shape": "independent", "size": "independent"}, "axis": {"y": "independent"}}
}
